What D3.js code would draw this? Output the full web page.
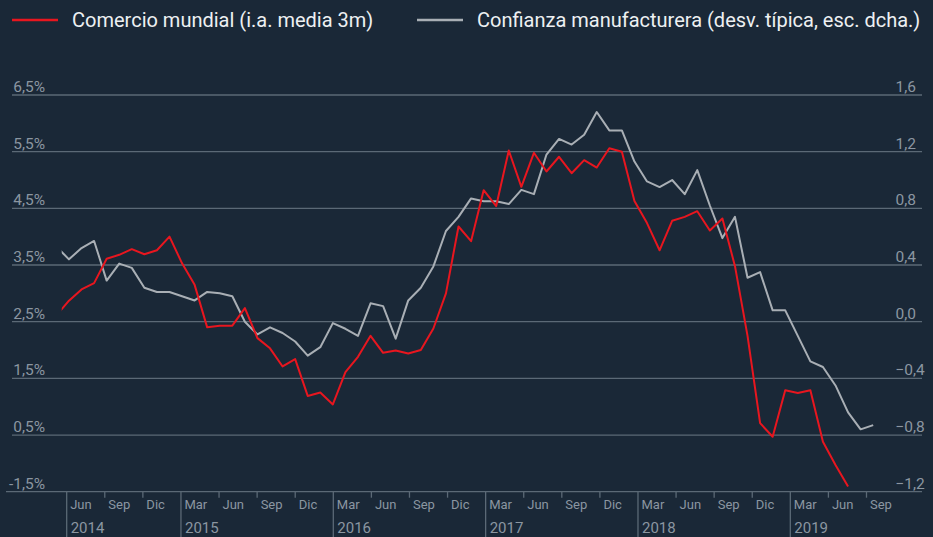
<!DOCTYPE html>
<html>
<head>
<meta charset="utf-8">
<script src="https://cdn.jsdelivr.net/npm/d3@7"></script>
<style>
  html, body { margin: 0; padding: 0; background: #1a2837; }
  svg { display: block; font-family: Roboto, "Open Sans", sans-serif; }
</style>
</head>
<body>
<div id="grafico"></div>
<script>
// Series mensuales, el primer dato es mayo 2014
const comercio = [
  2.61, 2.87, 3.07, 3.18, 3.61, 3.68, 3.78, 3.69, 3.76, 4.00,
  3.53, 3.15, 2.40, 2.43, 2.43, 2.74, 2.21, 2.03, 1.71, 1.84,
  1.19, 1.25, 1.04, 1.61, 1.88, 2.25, 1.95, 1.99, 1.94, 2.00,
  2.38, 3.00, 4.18, 3.92, 4.82, 4.54, 5.52, 4.88, 5.48, 5.15,
  5.41, 5.12, 5.35, 5.22, 5.56, 5.50, 4.63, 4.24, 3.76, 4.28,
  4.35, 4.45, 4.11, 4.32, 3.48, 2.25, 0.71, 0.47, 1.29, 1.24,
  1.29, 0.38, -0.03, -0.41
];
const confianza = [
  0.53, 0.44, 0.52, 0.57, 0.29, 0.41, 0.38, 0.24, 0.21, 0.21,
  0.18, 0.15, 0.21, 0.20, 0.18, 0.00, -0.09, -0.04, -0.08, -0.14,
  -0.24, -0.18, -0.01, -0.05, -0.10, 0.13, 0.11, -0.12, 0.15, 0.24,
  0.39, 0.64, 0.74, 0.87, 0.85, 0.85, 0.83, 0.93, 0.90, 1.18,
  1.29, 1.25, 1.32, 1.48, 1.35, 1.35, 1.13, 0.99, 0.95, 1.00,
  0.90, 1.07, 0.82, 0.59, 0.74, 0.31, 0.35, 0.08, 0.08, -0.10,
  -0.28, -0.32, -0.45, -0.64, -0.76, -0.73
];

// Ejes
const ticksIzq = [6.5, 5.5, 4.5, 3.5, 2.5, 1.5, 0.5, -0.5];
const etiquetasIzq = ['6,5%', '5,5%', '4,5%', '3,5%', '2,5%', '1,5%', '0,5%', '-1,5%'];
const ticksDcha = [1.6, 1.2, 0.8, 0.4, 0.0, -0.4, -0.8, -1.2];
const etiquetasMes = ['Jun', 'Sep', 'Dic', 'Mar'];
const anios = ['2014', '2015', '2016', '2017', '2018', '2019'];

const leyenda = [
  { texto: 'Comercio mundial (i.a. media 3m)', color: '#e8161f' },
  { texto: 'Confianza manufacturera (desv. típica, esc. dcha.)', color: '#a9afb5' }
];

const width = 933, height = 537;
const yTop = 95, yBottom = 491.7;

const svg = d3.select('#grafico')
  .append('svg')
  .attr('width', width)
  .attr('height', height);

svg.append('rect').attr('width', width).attr('height', height).attr('fill', '#1a2837');

const yIzq = d3.scaleLinear().domain([-0.5, 6.5]).range([yBottom, yTop]);
const yDcha = d3.scaleLinear().domain([-1.2, 1.6]).range([yBottom, yTop]);

// posicion de los datos (indice de mes desde mayo 2014)
const x = d3.scaleLinear().domain([0, 65]).range([56.4, 873.2]);
// posicion de las marcas del eje (jun 2014 = 1 ... sep 2019 = 64)
const xEje = d3.scaleLinear().domain([1, 64]).range([66.7, 866.5]);

const colorGrid = '#5b6976';
const colorTexto = '#8b96a1';

// Rejilla
svg.append('g')
  .selectAll('line')
  .data(ticksIzq)
  .enter()
  .append('line')
  .attr('x1', (d, i) => i === ticksIzq.length - 1 ? 6 : 12)
  .attr('x2', 922)
  .attr('y1', d => yIzq(d))
  .attr('y2', d => yIzq(d))
  .attr('stroke', colorGrid)
  .attr('stroke-width', 1.3);

// Etiquetas eje izquierdo
svg.append('g')
  .selectAll('text')
  .data(ticksIzq)
  .enter()
  .append('text')
  .attr('x', 45)
  .attr('y', d => yIzq(d) - 3)
  .attr('text-anchor', 'end')
  .attr('fill', colorTexto)
  .style('font-size', '15.5px')
  .text((d, i) => etiquetasIzq[i]);

// Etiquetas eje derecho
svg.append('g')
  .selectAll('text')
  .data(ticksDcha)
  .enter()
  .append('text')
  .attr('x', 895.5)
  .attr('y', d => yDcha(d) - 3)
  .attr('fill', colorTexto)
  .style('font-size', '15.5px')
  .text(d => d3.format('.1f')(d).replace('.', ','));

// Eje de fechas
const marcas = d3.range(22).map(j => ({
  k: 1 + 3 * j,
  mes: etiquetasMes[j % 4],
  largo: j === 0 || j % 4 === 3
}));

const ejeX = svg.append('g');
ejeX.selectAll('line')
  .data(marcas)
  .enter()
  .append('line')
  .attr('x1', d => xEje(d.k))
  .attr('x2', d => xEje(d.k))
  .attr('y1', yBottom)
  .attr('y2', d => d.largo ? height : yBottom + 6)
  .attr('stroke', colorGrid)
  .attr('stroke-width', 1.3);

ejeX.selectAll('text.mes')
  .data(marcas)
  .enter()
  .append('text')
  .attr('class', 'mes')
  .attr('x', d => xEje(d.k) + 3.5)
  .attr('y', 508.5)
  .attr('fill', colorTexto)
  .style('font-size', '13px')
  .text(d => d.mes);

ejeX.selectAll('text.anio')
  .data(marcas.filter(d => d.largo))
  .enter()
  .append('text')
  .attr('class', 'anio')
  .attr('x', d => xEje(d.k) + 4)
  .attr('y', 533)
  .attr('fill', colorTexto)
  .style('font-size', '15px')
  .text((d, i) => anios[i]);

// Lineas
svg.append('clipPath')
  .attr('id', 'recorte')
  .append('rect')
  .attr('x', 61.7).attr('y', 0)
  .attr('width', width).attr('height', height);

const lineaIzq = d3.line().x((d, i) => x(i)).y(d => yIzq(d));
const lineaDcha = d3.line().x((d, i) => x(i)).y(d => yDcha(d));

const series = svg.append('g').attr('clip-path', 'url(#recorte)');

series.append('path')
  .datum(confianza)
  .attr('d', lineaDcha)
  .attr('fill', 'none')
  .attr('stroke', leyenda[1].color)
  .attr('stroke-width', 2)
  .attr('stroke-linejoin', 'round');

series.append('path')
  .datum(comercio)
  .attr('d', lineaIzq)
  .attr('fill', 'none')
  .attr('stroke', leyenda[0].color)
  .attr('stroke-width', 2)
  .attr('stroke-linejoin', 'round');

// Leyenda
const posLeyenda = [12, 417];
const items = svg.append('g')
  .selectAll('g')
  .data(leyenda)
  .enter()
  .append('g')
  .attr('transform', (d, i) => `translate(${posLeyenda[i]},20)`);

items.append('line')
  .attr('x1', 0).attr('x2', 46)
  .attr('stroke', d => d.color)
  .attr('stroke-width', 2.5);

items.append('text')
  .attr('x', 60)
  .attr('y', 7)
  .attr('fill', '#edf0f2')
  .style('font-size', '20px')
  .text(d => d.texto);
</script>
</body>
</html>
